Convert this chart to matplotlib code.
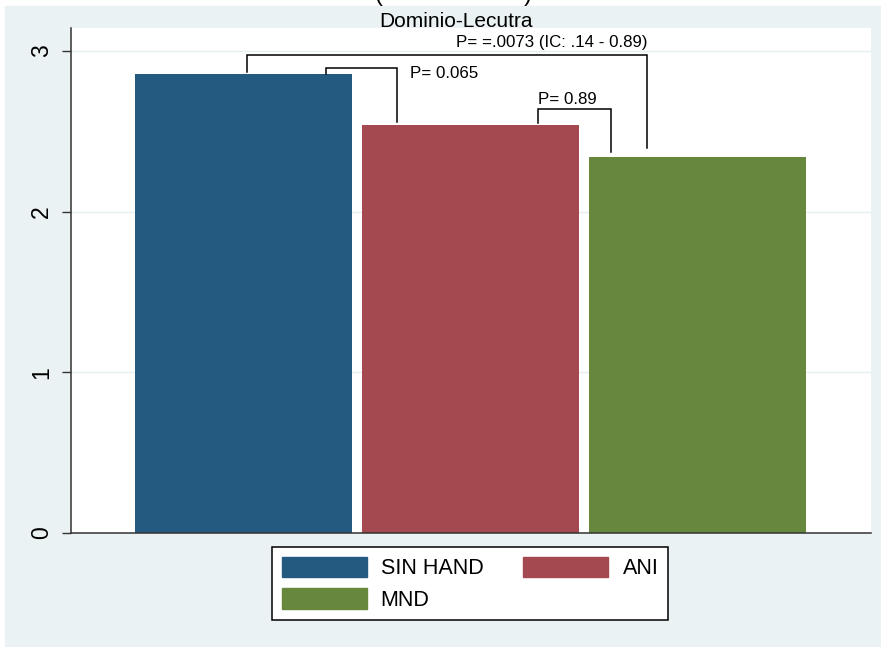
import matplotlib
matplotlib.use("Agg")
import matplotlib.pyplot as plt
from matplotlib.patches import Rectangle, Patch

plt.rcParams['font.family'] = ['Liberation Sans', 'DejaVu Sans']

# ---- data ----
groups = ["SIN HAND", "ANI", "MND"]
means = [2.856, 2.539, 2.340]
colors = ["#245A80", "#A4494F", "#67873C"]
title = "Dominio-Lecutra"
yticks = [0, 1, 2, 3]
p_labels = ["P= =.0073 (IC: .14 - 0.89)", "P= 0.065", "P= 0.89"]

W, H = 881, 647
fig = plt.figure(figsize=(W / 100, H / 100), dpi=100, facecolor="white")
bg = "#EAF2F3"
fig.patches.append(Rectangle((5 / W, 0), (W - 5) / W, (H - 6) / H,
                             transform=fig.transFigure, color=bg, zorder=-10))

def fx(px):
    return px / W

def fy(py):
    return 1 - py / H

ax = fig.add_axes([fx(71), fy(533), (871 - 71) / W, (533 - 28) / H])
ax.set_facecolor("white")

x = list(range(len(groups)))
bars = ax.bar(x, means, width=0.957, color=colors, zorder=2)

ax.set_xlim(-0.761, 2.767)
ax.set_ylim(0, 3.143)
ax.set_xticks([])
ax.set_yticks(yticks)
ax.set_yticklabels([str(t) for t in yticks], rotation=90, va="center")
ax.tick_params(axis="y", length=6.5, width=1, color="#333333", labelsize=16.5, pad=6.5)
for t in yticks[1:]:
    ax.axhline(t, color="#E6EEF0", lw=1, zorder=0)
for s in ["top", "right"]:
    ax.spines[s].set_visible(False)
for s in ["left", "bottom"]:
    ax.spines[s].set_color("#333333")
    ax.spines[s].set_linewidth(1.1)

# ---- significance brackets ----
def bracket(x0, x1, ytop, yb0, yb1):
    ax.plot([x0, x0, x1, x1], [yb0, ytop, ytop, yb1], color="black", lw=1.1,
            zorder=3, solid_joinstyle="miter")

# big: SIN HAND vs MND
bracket(0.015, 1.78, 2.975, means[0] + 0.013, means[2] + 0.056)
ax.text(1.78, 2.975 + 0.05, p_labels[0], ha="right", va="baseline", fontsize=12.2)
# SIN HAND vs ANI
bracket(0.364, 0.676, 2.894, means[0], means[1] + 0.02)
ax.text(0.735, 2.894 - 0.065, p_labels[1], ha="left", va="baseline", fontsize=12.2)
# ANI vs MND
bracket(1.299, 1.62, 2.639, means[1] + 0.013, means[2] + 0.031)
ax.text(1.299, 2.639 + 0.03, p_labels[2], ha="left", va="baseline", fontsize=12.2)

# ---- titles ----
fig.text(fx(456), fy(27), title, ha="center", va="baseline", fontsize=15)
fig.text(fx(379), fy(1), "(", ha="center", va="baseline", fontsize=17)
fig.text(fx(528), fy(1), ")", ha="center", va="baseline", fontsize=17)

# ---- legend ----
handles = [Patch(facecolor=c, edgecolor=c) for c in colors]
order = [0, 2, 1]
leg = fig.legend([handles[i] for i in order], [groups[i] for i in order],
                 ncol=2, loc="upper center", bbox_to_anchor=(fx(470), fy(547)),
                 fontsize=15.5, frameon=True, fancybox=False, framealpha=1,
                 borderaxespad=0, handlelength=3.95, handleheight=1.1,
                 handletextpad=0.65, columnspacing=1.86, labelspacing=0.4,
                 borderpad=0.45)
leg.get_frame().set_edgecolor("black")
leg.get_frame().set_linewidth(1.1)
leg.get_frame().set_facecolor("white")

fig.savefig("out.png", dpi=100, facecolor="white")
